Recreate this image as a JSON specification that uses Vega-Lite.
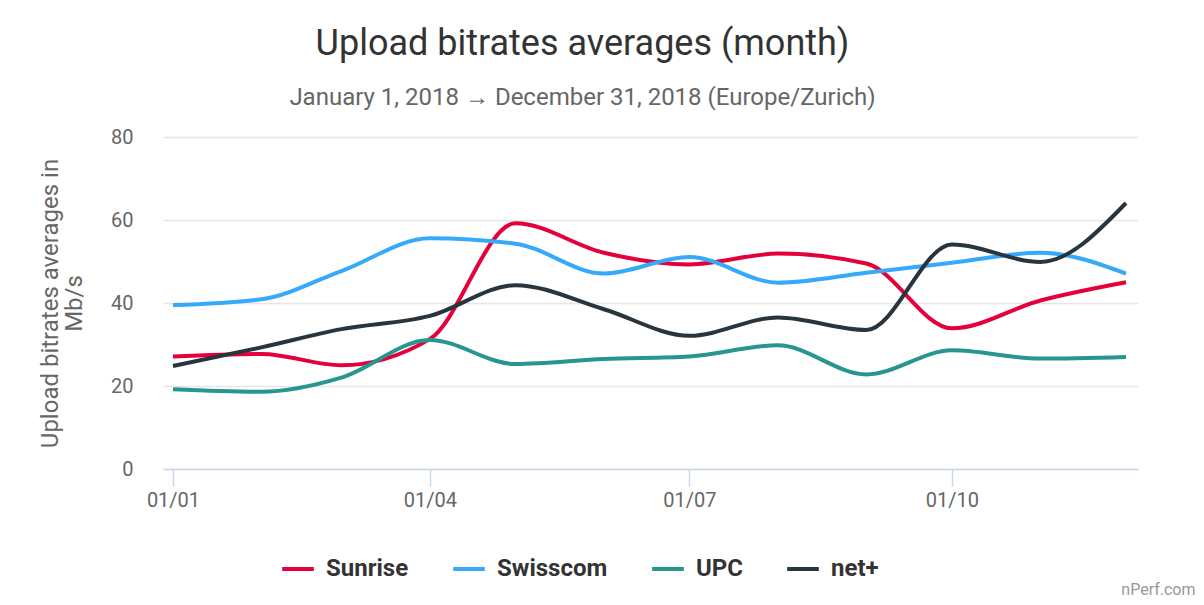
{
  "$schema": "https://vega.github.io/schema/vega-lite/v6.json",
  "autosize": {"type": "none"},
  "width": 975,
  "height": 332,
  "padding": {"left": 163, "top": 137, "right": 66, "bottom": 136},
  "background": "white",
  "config": {"font": "Roboto", "view": {"stroke": null}},
  "title": {
    "text": "Upload bitrates averages (month)",
    "subtitle": "January 1, 2018 → December 31, 2018 (Europe/Zurich)",
    "anchor": "middle",
    "frame": "group",
    "dx": -68,
    "offset": 16,
    "font": "Roboto",
    "fontSize": 36,
    "fontWeight": "normal",
    "color": "#333333",
    "subtitleFont": "Roboto",
    "subtitleFontSize": 24,
    "subtitleColor": "#666666",
    "subtitlePadding": 23
  },
  "data": {
    "values": [
      {"isp": "Sunrise", "date": "2018-01-01T00:00:00", "value": 27.1},
      {"isp": "Sunrise", "date": "2018-02-01T00:00:00", "value": 27.7},
      {"isp": "Sunrise", "date": "2018-03-01T00:00:00", "value": 25.0},
      {"isp": "Sunrise", "date": "2018-04-01T00:00:00", "value": 31.3},
      {"isp": "Sunrise", "date": "2018-05-01T00:00:00", "value": 59.2},
      {"isp": "Sunrise", "date": "2018-06-01T00:00:00", "value": 52.1},
      {"isp": "Sunrise", "date": "2018-07-01T00:00:00", "value": 49.3},
      {"isp": "Sunrise", "date": "2018-08-01T00:00:00", "value": 51.9},
      {"isp": "Sunrise", "date": "2018-09-01T00:00:00", "value": 49.5},
      {"isp": "Sunrise", "date": "2018-10-01T00:00:00", "value": 33.9},
      {"isp": "Sunrise", "date": "2018-11-01T00:00:00", "value": 40.6},
      {"isp": "Sunrise", "date": "2018-12-01T00:00:00", "value": 45.0},
      {"isp": "Swisscom", "date": "2018-01-01T00:00:00", "value": 39.5},
      {"isp": "Swisscom", "date": "2018-02-01T00:00:00", "value": 40.9},
      {"isp": "Swisscom", "date": "2018-03-01T00:00:00", "value": 47.7},
      {"isp": "Swisscom", "date": "2018-04-01T00:00:00", "value": 55.6},
      {"isp": "Swisscom", "date": "2018-05-01T00:00:00", "value": 54.3},
      {"isp": "Swisscom", "date": "2018-06-01T00:00:00", "value": 47.1},
      {"isp": "Swisscom", "date": "2018-07-01T00:00:00", "value": 51.1},
      {"isp": "Swisscom", "date": "2018-08-01T00:00:00", "value": 44.9},
      {"isp": "Swisscom", "date": "2018-09-01T00:00:00", "value": 47.3},
      {"isp": "Swisscom", "date": "2018-10-01T00:00:00", "value": 49.7},
      {"isp": "Swisscom", "date": "2018-11-01T00:00:00", "value": 52.1},
      {"isp": "Swisscom", "date": "2018-12-01T00:00:00", "value": 47.1},
      {"isp": "UPC", "date": "2018-01-01T00:00:00", "value": 19.2},
      {"isp": "UPC", "date": "2018-02-01T00:00:00", "value": 18.6},
      {"isp": "UPC", "date": "2018-03-01T00:00:00", "value": 22.0},
      {"isp": "UPC", "date": "2018-04-01T00:00:00", "value": 31.1},
      {"isp": "UPC", "date": "2018-05-01T00:00:00", "value": 25.3},
      {"isp": "UPC", "date": "2018-06-01T00:00:00", "value": 26.5},
      {"isp": "UPC", "date": "2018-07-01T00:00:00", "value": 27.1},
      {"isp": "UPC", "date": "2018-08-01T00:00:00", "value": 29.8},
      {"isp": "UPC", "date": "2018-09-01T00:00:00", "value": 22.8},
      {"isp": "UPC", "date": "2018-10-01T00:00:00", "value": 28.6},
      {"isp": "UPC", "date": "2018-11-01T00:00:00", "value": 26.6},
      {"isp": "UPC", "date": "2018-12-01T00:00:00", "value": 27.0},
      {"isp": "net+", "date": "2018-01-01T00:00:00", "value": 24.8},
      {"isp": "net+", "date": "2018-02-01T00:00:00", "value": 29.3},
      {"isp": "net+", "date": "2018-03-01T00:00:00", "value": 33.7},
      {"isp": "net+", "date": "2018-04-01T00:00:00", "value": 36.9},
      {"isp": "net+", "date": "2018-05-01T00:00:00", "value": 44.3},
      {"isp": "net+", "date": "2018-06-01T00:00:00", "value": 38.5},
      {"isp": "net+", "date": "2018-07-01T00:00:00", "value": 32.1},
      {"isp": "net+", "date": "2018-08-01T00:00:00", "value": 36.5},
      {"isp": "net+", "date": "2018-09-01T00:00:00", "value": 33.5},
      {"isp": "net+", "date": "2018-10-01T00:00:00", "value": 54.1},
      {"isp": "net+", "date": "2018-11-01T00:00:00", "value": 49.9},
      {"isp": "net+", "date": "2018-12-01T00:00:00", "value": 64.1}
    ]
  },
  "mark": {"type": "line", "interpolate": "monotone", "strokeWidth": 4},
  "encoding": {
    "x": {
      "field": "date",
      "type": "temporal",
      "scale": {
        "domain": [
          {"year": 2017, "month": 12, "date": 28, "hours": 12},
          {"year": 2018, "month": 12, "date": 5, "hours": 5}
        ]
      },
      "axis": {
        "values": [
          {"year": 2018, "month": 1, "date": 1},
          {"year": 2018, "month": 4, "date": 1},
          {"year": 2018, "month": 7, "date": 1},
          {"year": 2018, "month": 10, "date": 1}
        ],
        "format": "%d/%m",
        "grid": false,
        "domainColor": "#ccd6eb",
        "domainWidth": 1.5,
        "tickColor": "#ccd6eb",
        "tickWidth": 1.5,
        "tickSize": 17,
        "labelFontSize": 20,
        "labelColor": "#666666",
        "labelPadding": 4,
        "title": "nPerf.com",
        "titleFontSize": 16,
        "titleFontWeight": "normal",
        "titleColor": "#999999",
        "titleAnchor": "end",
        "titleAlign": "right",
        "titleBaseline": "alphabetic",
        "titleX": 1032,
        "titleY": 125
      }
    },
    "y": {
      "field": "value",
      "type": "quantitative",
      "scale": {"domain": [0, 80]},
      "axis": {
        "values": [0, 20, 40, 60, 80],
        "domain": false,
        "ticks": false,
        "gridColor": "#e6e6e6",
        "gridWidth": 1.5,
        "labelFontSize": 20,
        "labelColor": "#666666",
        "labelPadding": 30,
        "title": ["Upload bitrates averages in", "Mb/s"],
        "titleFontSize": 24,
        "titleFontWeight": "normal",
        "titleColor": "#666666",
        "titleLineHeight": 24,
        "titlePadding": 24
      }
    },
    "color": {
      "field": "isp",
      "type": "nominal",
      "scale": {
        "domain": ["Sunrise", "Swisscom", "UPC", "net+"],
        "range": ["#e4003b", "#36a9fb", "#26968e", "#29353d"]
      },
      "legend": {
        "orient": "none",
        "legendX": 117,
        "legendY": 414,
        "direction": "horizontal",
        "title": null,
        "symbolType": "stroke",
        "symbolStrokeWidth": 4,
        "symbolSize": 1000,
        "labelFontSize": 24,
        "labelFontWeight": "bold",
        "labelColor": "#333333",
        "labelOffset": 10,
        "columnPadding": 36
      }
    }
  }
}
